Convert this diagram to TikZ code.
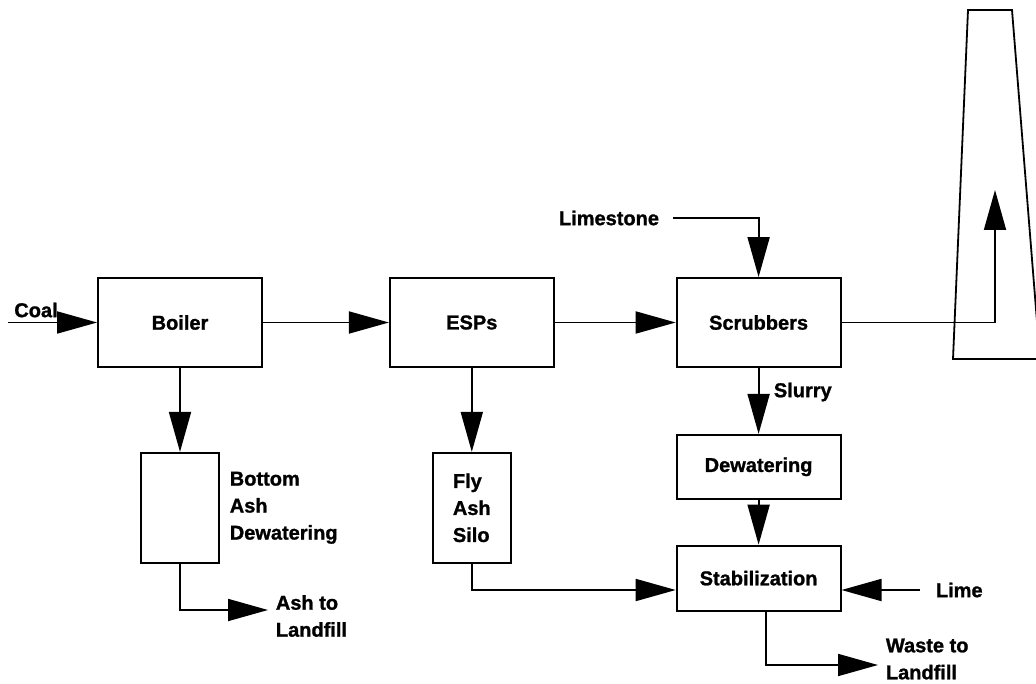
\documentclass[tikz,border=0pt]{standalone}
\usepackage{fontspec}
\setsansfont{Liberation Sans}[BoldFeatures={FakeBold=1.2}]
\usetikzlibrary{positioning, arrows.meta}

\begin{document}
\begin{tikzpicture}[x=1pt, y=-1pt, line width=1.8pt,
    >={Triangle[length=40pt, width=22pt]},
    font=\sffamily\bfseries\fontsize{20}{27}\selectfont,
    unit/.style={draw, minimum width=164pt, minimum height=89pt, inner sep=0pt},
    flat/.style={unit, minimum height=64pt},
    tall/.style={draw, minimum width=78pt, minimum height=110pt, inner sep=0pt, align=left},
    lbl/.style={inner sep=0pt, align=left}]
  \useasboundingbox (0,0) rectangle (1036,684);
  \clip (0,0) rectangle (1036,684);
  \node[unit] (boiler) at (180,322.5) {Boiler};
  \node[unit, right=126pt of boiler] (esps) {ESPs};
  \node[unit, right=121pt of esps] (scrub) {Scrubbers};
  \node[tall, below=84pt of boiler] (bash) {};
  \node[tall, below=84pt of esps] (fly) {Fly\\Ash\\Silo};
  \node[flat, below=66pt of scrub] (dew) {Dewatering};
  \node[flat, minimum height=65pt, below=45pt of dew] (stab) {Stabilization};
  \node[lbl, right=9pt of bash] (bashl) {Bottom\\Ash\\Dewatering};
  \node[lbl] (coal) at (36,310) {Coal};
  \node[lbl] (limest) at (609,218) {Limestone};
  \node[lbl, anchor=west] (slurry) at (773,392) {Slurry};
  \node[lbl, anchor=west] (lime) at (935,590) {Lime};
  \node[lbl, anchor=west] (ashl) at (275,616) {Ash to\\Landfill};
  \node[lbl, anchor=west] (wastel) at (885,659) {Waste to\\Landfill};
  \coordinate (coalin) at (8,322.5);
  \coordinate (ashtip) at (268,610);
  \coordinate (wastetip) at (878,665);
  \coordinate (stacktip) at (995,190);
  \draw (968,10) -- (1012,10) -- (1040,359) -- (953,359) -- cycle;
  \draw[->] (coalin) -- (boiler.west);
  \draw[->] (boiler) -- (esps);
  \draw[->] (esps) -- (scrub);
  \draw[->] (boiler) -- (bash);
  \draw[->] (esps) -- (fly);
  \draw[->] (bash.south) |- (ashtip);
  \draw[->] ([xshift=13pt]limest.east) -| (scrub.north);
  \draw[->] (scrub.east) -| (stacktip);
  \draw[->] (scrub) -- (dew);
  \draw[->] (dew) -- (stab);
  \draw[->] (fly.south) |- (stab.west |- lime.west);
  \draw[->] ([xshift=-15pt]lime.west) -- (stab.east |- lime.west);
  \draw[->] ([xshift=7pt]stab.south) |- (wastetip);
\end{tikzpicture}
\end{document}
